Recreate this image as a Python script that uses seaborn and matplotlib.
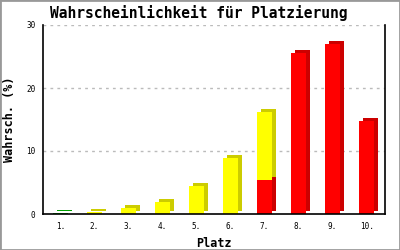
import matplotlib
matplotlib.use("Agg")
import matplotlib.pyplot as plt
import matplotlib.transforms as mtransforms
from matplotlib.patches import Rectangle
import seaborn as sns

places = ["1.", "2.", "3.", "4.", "5.", "6.", "7.", "8.", "9.", "10."]
total = [0.15, 0.35, 1.0, 1.95, 4.5, 8.9, 16.2, 25.6, 27.0, 14.8]
red_part = [0, 0, 0, 0, 0, 0, 5.4, 25.6, 27.0, 14.8]
bar_colors = ["#00CC00"] + ["#FFFF00"] * 6 + ["#FF0000"] * 3
side_colors = {"#00CC00": "#00A000", "#FFFF00": "#CCCC00", "#FF0000": "#CC0000"}
yticks = [0, 10, 20, 30]

sns.set_style("white")
plt.rcParams.update({"text.color": "black", "axes.labelcolor": "black",
                     "xtick.color": "black", "ytick.color": "black"})
mono = ["DejaVu Sans Mono"]

fig = plt.figure(figsize=(4, 2.5), dpi=100)
ax = fig.add_axes([0.1075, 0.144, 0.855, 0.756])

sns.barplot(x=places, y=total, hue=places, palette=bar_colors, legend=False,
            width=0.44, ax=ax, saturation=1, zorder=3, linewidth=0)
n_front = len(ax.patches)
sns.barplot(x=places, y=red_part, color="#FF0000", width=0.44, ax=ax,
            saturation=1, zorder=5, linewidth=0)

patches = list(ax.patches)
shadow = mtransforms.offset_copy(ax.transData, fig=fig, x=4, y=3, units="dots")
for i, p in enumerate(patches):
    if p.get_height() <= 0:
        continue
    fc = matplotlib.colors.to_hex(p.get_facecolor()).upper()
    dark = side_colors.get(fc, "#CC0000")
    z = 2 if i < n_front else 2.5
    r = Rectangle((p.get_x(), p.get_y()), p.get_width(), p.get_height(),
                  facecolor=dark, edgecolor="none", transform=shadow, zorder=z)
    ax.add_patch(r)

ax.set_xlim(-0.515, 9.54)
ax.set_ylim(0, 30)
ax.set_yticks(yticks)
ax.set_yticklabels([str(v) for v in yticks], family=mono, fontsize=5.5)
ax.set_xticks(range(len(places)))
ax.set_xticklabels(places, family=mono, fontsize=5.5)
ax.tick_params(axis="y", direction="inout", length=5, width=1, pad=3, color="black")
ax.tick_params(axis="x", length=0, pad=6)

for v in yticks[1:]:
    ax.axhline(v, color="#BBBBBB", linestyle=(0, (2, 3)), linewidth=1, zorder=1)

for s in ["left", "bottom", "right"]:
    ax.spines[s].set_visible(True)
    ax.spines[s].set_color("black")
    ax.spines[s].set_linewidth(1.2)
    ax.spines[s].set_zorder(6)
ax.spines["top"].set_visible(False)

ax.set_xlabel("Platz", family=mono, fontsize=8.5, fontweight="bold", labelpad=4)
ax.set_ylabel("Wahrsch. (%)", family=mono, fontsize=8.5, fontweight="bold", labelpad=7)
fig.text(0.4975, 0.948, "Wahrscheinlichkeit für Platzierung", family=mono,
         fontsize=10.5, fontweight="bold", ha="center", va="center")

fig.patches.append(Rectangle((0, 0), 1, 1, transform=fig.transFigure,
                             facecolor="none", edgecolor="#999999", linewidth=2))

fig.savefig("out.png", dpi=100)
